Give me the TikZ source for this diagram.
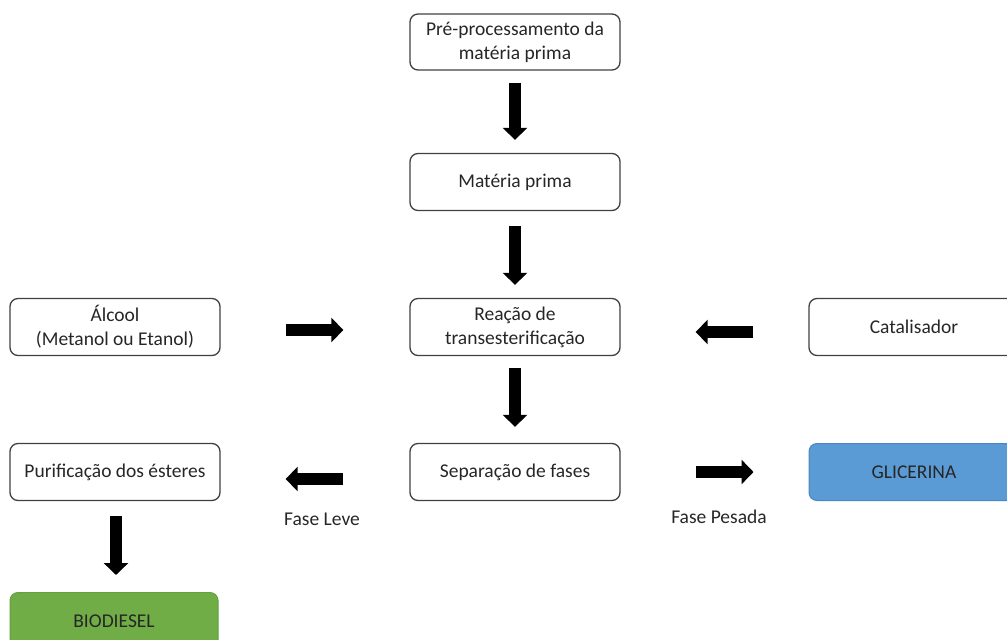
\documentclass[tikz,border=0pt]{standalone}
\usepackage{fontspec}
\setmainfont{Carlito}
\usetikzlibrary{arrows.meta}
\definecolor{boxline}{HTML}{404040}
\definecolor{txt}{HTML}{262626}
\definecolor{gliblue}{HTML}{5B9BD5}
\definecolor{glidark}{HTML}{4A86C0}
\definecolor{biogreen}{HTML}{70AD47}
\definecolor{biodark}{HTML}{66A03F}
\tikzset{
  box/.style={draw=boxline, line width=1.3pt, rounded corners=8pt, minimum width=210pt,
    minimum height=57pt, align=center, text=txt, inner sep=2pt,
    font=\fontsize{19.5}{24}\selectfont},
  bigarrow/.style={line width=12pt, black, -{Triangle[length=12pt,width=24pt]}},
  lbl/.style={text=txt, font=\fontsize{19.5}{24}\selectfont, inner sep=0pt}
}
\begin{document}
\begin{tikzpicture}[x=1pt,y=-1pt]
\useasboundingbox (0,0) rectangle (1007,640);
\node[box, minimum height=56pt] (pre) at (515,42) {Pré-processamento da\\matéria prima};
\node[box] (mat) at (515,182) {Matéria prima};
\node[box] (reac) at (515,327) {Reação de\\transesterificação};
\node[box] (sep) at (515,472) {Separação de fases};
\node[box] (alc) at (115,327) {Álcool\\(Metanol ou Etanol)};
\node[box] (cat) at (914,327) {Catalisador};
\node[box] (pur) at (115,472) {Purificação dos ésteres};
\node[box, fill=gliblue, draw=glidark, line width=1pt] (gli) at (914,472) {GLICERINA};
\node[box, fill=biogreen, draw=biodark, line width=1pt, minimum width=208pt] (bio) at (114,621) {BIODIESEL};
\node[lbl] (leve) at (322,519) {Fase Leve};
\node[lbl] (pesada) at (719,517) {Fase Pesada};
\draw[bigarrow, shorten <=12pt, shorten >=13pt] (pre.south) -- (mat.north);
\draw[bigarrow, shorten <=15pt, shorten >=13pt] (mat.south) -- (reac.north);
\draw[bigarrow, shorten <=12pt, shorten >=16pt] (reac.south) -- (sep.north);
\draw[bigarrow, shorten <=65pt, shorten >=66pt] ([yshift=-3pt]alc.east) -- ([yshift=-3pt]reac.west);
\draw[bigarrow, shorten <=55pt, shorten >=75pt] ([yshift=-5pt]cat.west) -- ([yshift=-5pt]reac.east);
\draw[bigarrow, shorten <=66pt, shorten >=65pt] ([yshift=-7pt]sep.west) -- ([yshift=-7pt]pur.east);
\draw[bigarrow, shorten <=75pt, shorten >=55pt] (sep.east) -- (gli.west);
\draw[bigarrow, shorten <=15pt, shorten >=17pt] ([xshift=1pt]pur.south) -- ([xshift=1pt]pur.south |- bio.north);
\end{tikzpicture}
\end{document}
